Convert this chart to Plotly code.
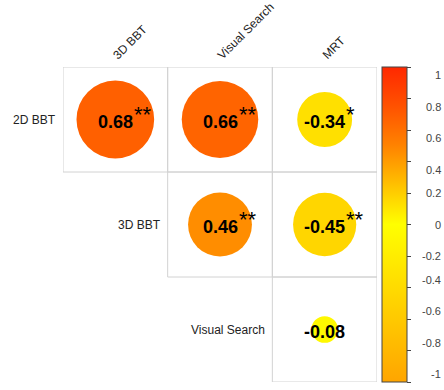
import plotly.graph_objects as go
from plotly.colors import sample_colorscale

# ---- data ----
row_labels = ["2D BBT", "3D BBT", "Visual Search"]
col_labels = ["3D BBT", "Visual Search", "MRT"]
corr = [
    [0.68, 0.66, -0.34],
    [None, 0.46, -0.45],
    [None, None, -0.08],
]
sig = [
    ["**", "**", "*"],
    [None, "**", "**"],
    [None, None, ""],
]
cbar_ticks = [1, 0.8, 0.6, 0.4, 0.2, 0, -0.2, -0.4, -0.6, -0.8, -1]

colorscale = [
    [0.0, "#FFA500"],
    [0.5, "#FFFF00"],
    [0.75, "#FF8300"],
    [0.875, "#FF5200"],
    [1.0, "#FF2800"],
]

FONT = "Liberation Sans, Arial, sans-serif"
W, H = 444, 390
ML, MR, MT, MB = 63, 67, 67, 8

fig = go.Figure()
shapes = []
annotations = []

n = len(row_labels)
for i in range(n):
    for j in range(n):
        v = corr[i][j]
        if v is None:
            continue
        # grid cell
        shapes.append(dict(type="rect", xref="x", yref="y",
                           x0=j - 0.5, x1=j + 0.5, y0=i - 0.5, y1=i + 0.5,
                           line=dict(color="#d2d2d2", width=1), layer="below"))
        r = abs(v) ** 0.5 * 0.45
        col = sample_colorscale(colorscale, [(v + 1) / 2])[0]
        shapes.append(dict(type="circle", xref="x", yref="y",
                           x0=j - r, x1=j + r, y0=i - r, y1=i + r,
                           fillcolor=col, line=dict(width=0), layer="above"))
        txt = f"{v:.2f}"
        annotations.append(dict(x=j, y=i, xref="x", yref="y", text=f"<b>{txt}</b>",
                                showarrow=False, yshift=-2,
                                font=dict(family=FONT, size=18, color="black")))
        s = sig[i][j]
        if s:
            wid = sum(0.333 if c == "-" else (0.278 if c == "." else 0.556) for c in txt) * 18
            annotations.append(dict(x=j, y=i, xref="x", yref="y", text=s,
                                    showarrow=False, xanchor="left", yanchor="middle",
                                    xshift=wid / 2 - 1, yshift=5,
                                    font=dict(family=FONT, size=22, color="black")))

# row labels
for i, lab in enumerate(row_labels):
    annotations.append(dict(x=i - 0.5, y=i, xref="x", yref="y", text=lab,
                            showarrow=False, xanchor="right", xshift=-5,
                            font=dict(family=FONT, size=12, color="#222")))
# column labels
for j, lab in enumerate(col_labels):
    annotations.append(dict(x=j, y=1, xref="x", yref="paper", text=lab,
                            showarrow=False, xanchor="left", yanchor="bottom",
                            textangle=-45, xshift=-8, yshift=2,
                            font=dict(family=FONT, size=12, color="#222")))
# colorbar tick labels
for t in cbar_ticks:
    annotations.append(dict(x=(443 - ML) / (W - ML - MR), y=(t + 1) / 2,
                            xref="paper", yref="paper", text=f"{t:g}",
                            showarrow=False, xanchor="right",
                            font=dict(family=FONT, size=11, color="#444")))

# colorbar holder
fig.add_trace(go.Scatter(
    x=[0, 0], y=[0, 0], mode="markers", hoverinfo="skip",
    marker=dict(color=[-1, 1], cmin=-1, cmax=1, colorscale=colorscale,
                opacity=0, size=1, showscale=True,
                colorbar=dict(x=(382 - ML) / (W - ML - MR), xanchor="left",
                              xref="paper", y=0.5, yanchor="middle",
                              len=1, lenmode="fraction", thickness=25,
                              thicknessmode="pixels", xpad=0, ypad=0,
                              outlinecolor="#444", outlinewidth=1,
                              tickvals=cbar_ticks, ticks="outside", ticklen=4,
                              tickcolor="#444", showticklabels=False)),
    showlegend=False))

fig.update_layout(
    width=W, height=H,
    margin=dict(l=ML, r=MR, t=MT, b=MB),
    paper_bgcolor="white", plot_bgcolor="white",
    xaxis=dict(range=[-0.5, 2.5], visible=False, fixedrange=True),
    yaxis=dict(range=[2.5, -0.5], visible=False, fixedrange=True),
    shapes=shapes, annotations=annotations, showlegend=False,
)

fig.write_html("out.html")
